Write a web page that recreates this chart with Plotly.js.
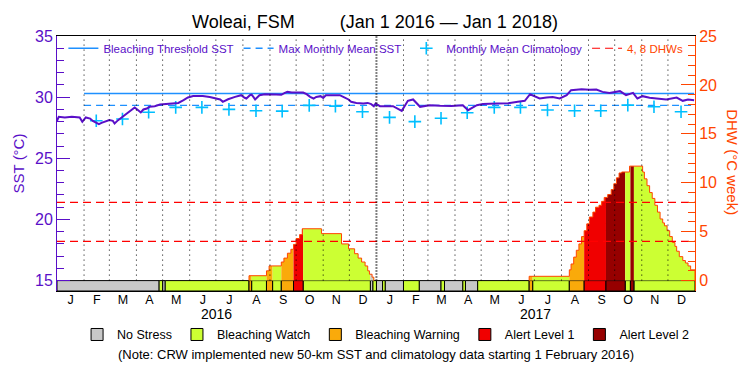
<!DOCTYPE html>
<html><head><meta charset="utf-8">
<script src="https://cdn.plot.ly/plotly-3.0.1.min.js"></script>
<style>html,body{margin:0;padding:0;background:#fff}#chart{width:750px;height:375px}</style>
</head><body><div id="chart"></div>
<script>
// ---- SST (daily line) ----
const sstDates = ['2016-01-01','2016-01-03','2016-01-10','2016-01-18','2016-01-27','2016-01-30','2016-02-03','2016-02-08','2016-02-11','2016-02-15','2016-02-18','2016-02-21','2016-02-25','2016-03-01','2016-03-05','2016-03-07','2016-03-11','2016-03-15','2016-03-19','2016-03-23','2016-03-26','2016-03-30','2016-04-03','2016-04-06','2016-04-09','2016-04-13','2016-04-16','2016-04-22','2016-04-28','2016-05-05','2016-05-13','2016-05-19','2016-05-25','2016-05-30','2016-06-05','2016-06-16','2016-06-24','2016-06-30','2016-07-06','2016-07-09','2016-07-15','2016-07-23','2016-07-30','2016-08-03','2016-08-05','2016-08-09','2016-08-11','2016-08-13','2016-08-15','2016-08-20','2016-08-26','2016-09-08','2016-09-14','2016-09-18','2016-09-21','2016-09-26','2016-10-09','2016-10-13','2016-10-17','2016-10-21','2016-10-24','2016-10-29','2016-11-01','2016-11-04','2016-11-20','2016-11-24','2016-11-30','2016-12-03','2016-12-09','2016-12-17','2016-12-22','2016-12-26','2016-12-29','2016-12-31','2017-01-05','2017-01-20','2017-01-26','2017-01-30','2017-02-06','2017-02-12','2017-02-20','2017-03-03','2017-03-15','2017-03-28','2017-04-10','2017-04-16','2017-04-26','2017-05-03','2017-05-19','2017-06-01','2017-06-12','2017-06-20','2017-06-26','2017-07-07','2017-07-15','2017-07-22','2017-07-30','2017-08-07','2017-08-12','2017-08-24','2017-09-02','2017-09-10','2017-09-17','2017-09-25','2017-10-07','2017-10-14','2017-10-22','2017-10-27','2017-11-02','2017-11-10','2017-11-18','2017-11-29','2017-12-11','2017-12-18','2017-12-24','2017-12-31'];
const sstValues = [28.06,28.39,28.34,28.39,28.34,27.98,28.34,28.25,28.06,27.9,27.79,27.9,27.98,28.12,28.06,27.85,28.12,28.34,28.53,28.8,28.99,29.15,28.93,28.75,28.99,29.07,29.21,29.26,29.4,29.43,29.48,29.53,29.75,29.97,30.1,30.1,30.02,29.94,29.81,29.62,29.83,30.02,30.16,29.95,29.89,30.16,30.21,30.02,29.81,30.16,30.24,30.21,30.19,30.35,30.43,30.38,30.38,30.24,30.02,29.89,30.02,30.08,29.94,30.16,30.16,30.02,29.81,29.62,29.53,29.48,29.53,29.43,29.26,29.48,29.26,29.26,29.07,28.88,29.7,29.81,29.21,29.34,29.3,29.28,29.34,28.93,29.34,29.43,29.48,29.5,29.62,29.7,30.24,29.89,29.97,30.02,29.89,30.16,30.57,30.65,30.6,30.62,30.43,30.35,30.49,30.16,30.35,29.89,30.08,29.95,29.89,29.81,29.97,29.7,29.8,29.75];

// ---- Monthly mean climatology ----
const climDates = ['2016-02-15','2016-03-16','2016-04-15','2016-05-16','2016-06-15','2016-07-16','2016-08-16','2016-09-15','2016-10-16','2016-11-15','2016-12-16','2017-01-16','2017-02-14','2017-03-16','2017-04-15','2017-05-16','2017-06-15','2017-07-16','2017-08-16','2017-09-15','2017-10-16','2017-11-15','2017-12-16'];
const climValues = [28.07,28.21,28.76,29.16,29.16,29.0,28.89,28.86,29.33,29.27,28.81,28.35,28.0,28.27,28.73,29.16,29.16,28.95,28.89,28.89,29.35,29.21,28.81];

// ---- Reference levels ----
const thresholdSST = 30.3;
const mmmSST = 29.33;
const refPeriod = ['2016-02-01','2017-12-31'];
const dhwLevels = [4, 8];

// ---- Degree heating weeks (step values, each holds until next date) ----
const dhwDates = ['2016-08-08','2016-08-28','2016-08-31','2016-09-14','2016-09-17','2016-09-21','2016-09-25','2016-09-28','2016-10-01','2016-10-05','2016-10-08','2016-10-30','2016-11-22','2016-11-30','2016-12-07','2016-12-11','2016-12-15','2016-12-19','2016-12-22','2016-12-24','2016-12-27','2016-12-29',
 '2017-06-25','2017-08-10','2017-08-12','2017-08-15','2017-08-18','2017-08-21','2017-08-24','2017-08-27','2017-08-30','2017-09-02','2017-09-06','2017-09-09','2017-09-13','2017-09-16','2017-09-19','2017-09-23','2017-09-27','2017-09-30','2017-10-03','2017-10-06','2017-10-09','2017-10-18','2017-11-02','2017-11-04','2017-11-07','2017-11-10','2017-11-13','2017-11-16','2017-11-19','2017-11-22','2017-11-25','2017-11-27','2017-11-30','2017-12-03','2017-12-06','2017-12-09','2017-12-11','2017-12-14','2017-12-18','2017-12-21','2017-12-24','2017-12-27'];
const dhwValues = [0.5,1.0,1.5,1.9,2.3,2.8,3.2,3.7,4.3,4.7,5.3,4.8,3.75,3.25,2.75,2.3,1.9,1.5,1.0,0.65,0.35,0,
 0.44,1.1,1.7,2.4,3.1,3.75,4.5,5.1,5.8,6.5,7.0,7.5,7.7,8.1,8.5,8.8,9.3,9.9,10.5,11.0,11.1,11.7,11.1,10.4,9.7,9.0,8.4,7.7,7.0,6.3,5.9,5.6,5.1,4.5,3.9,3.5,3.0,2.45,2.05,1.8,1.5,1.1];

// ---- Bleaching alert status (segment starts; last ends at period end) ----
const statusStarts = ['2016-01-01','2016-04-27','2016-05-01','2016-05-04','2016-08-08','2016-08-11','2016-08-28','2016-09-04','2016-09-14','2016-09-28','2016-10-09','2016-12-25','2016-12-28','2017-01-01','2017-01-08','2017-01-11','2017-02-01','2017-02-19','2017-03-16','2017-03-20','2017-04-10','2017-04-13','2017-04-27','2017-06-25','2017-06-29','2017-08-10','2017-08-27','2017-09-21','2017-10-13','2017-10-19','2017-10-23'];
const statusCodes  = [0,1,0,1,2,1,2,1,2,3,1,0,1,0,1,0,1,0,1,0,1,0,1,2,1,2,3,4,1,4,1];
const periodEnd = '2018-01-01';
const statusNames  = ['No Stress','Bleaching Watch','Bleaching Warning','Alert Level 1','Alert Level 2'];
const statusColors = ['#c8c8c8','#ccff33','#faaa0a','#f00000','#960000'];

// ---- Axis labels ----
const monthLetters = ['J','F','M','A','M','J','J','A','S','O','N','D'];
const years = [2016, 2017];

// ---- styling constants ----
const PURPLE = '#5a0fc8', ORANGE = '#ff4500', SKY = '#00bfff', BLUE = '#1e90ff';
const FONT = 'Liberation Sans, Arial, sans-serif';
const SST_RANGE = [14.15, 35];
const DHW_RANGE = [-1.0625, 25];

const ms = s => Date.parse(s.length === 10 ? s + 'T00:00:00Z' : s);
const iso = t => new Date(t).toISOString().replace('T',' ').slice(0,19);
function dhwAt(t){ let v = 0; for (let i=0;i<dhwDates.length;i++){ if (ms(dhwDates[i]) <= t) v = dhwValues[i]; else break; } return v; }

const traces = [];

// DHW area, coloured by status segment
for (let i=0;i<statusStarts.length;i++){
  const s = ms(statusStarts[i]);
  const e = ms(i+1<statusStarts.length ? statusStarts[i+1] : periodEnd);
  const xs=[iso(s)], ys=[dhwAt(s)];
  dhwDates.forEach((d,k)=>{ const t=ms(d); if (t>s && t<e){ xs.push(d); ys.push(dhwValues[k]); } });
  xs.push(iso(e)); ys.push(ys[ys.length-1]);
  if (ys.every(v=>v===0)) continue;
  traces.push({x:xs, y:ys, yaxis:'y2', mode:'lines', line:{width:0, shape:'hv'}, fill:'tozeroy',
    fillcolor: statusColors[statusCodes[i]], showlegend:false, hoverinfo:'skip'});
}

// DHW outline, one per episode
let ep = null;
const episodes = [];
dhwDates.forEach((d,k)=>{
  if (dhwValues[k] > 0){ if(!ep){ ep={x:[d],y:[0]}; episodes.push(ep);} ep.x.push(d); ep.y.push(dhwValues[k]); }
  else if (ep){ ep.x.push(d); ep.y.push(0); ep=null; }
});
if (ep){ ep.x.push(periodEnd); ep.y.push(0); }
episodes.forEach(p=>traces.push({x:p.x, y:p.y, yaxis:'y2', mode:'lines', line:{color:ORANGE, width:1, shape:'hv'}, showlegend:false, hoverinfo:'skip'}));

// Status bar
statusNames.forEach((nm,c)=>{
  const xs=[], ws=[];
  statusStarts.forEach((d,i)=>{
    if (statusCodes[i]!==c) return;
    const s=ms(d), e=ms(i+1<statusStarts.length ? statusStarts[i+1] : periodEnd);
    xs.push(iso((s+e)/2)); ws.push(e-s);
  });
  traces.push({type:'bar', x:xs, width:ws, y:xs.map(()=>-DHW_RANGE[0]), base:DHW_RANGE[0], yaxis:'y2',
    marker:{color:statusColors[c], line:{color:'#000', width:1}}, name:nm, legend:'legend2', hoverinfo:'skip'});
});

// SST reference lines & climatology
traces.push({x:refPeriod, y:refPeriod.map(()=>thresholdSST), mode:'lines', line:{color:BLUE, width:1.3}, name:'Bleaching Threshold SST'});
traces.push({x:refPeriod, y:refPeriod.map(()=>mmmSST), mode:'lines', line:{color:BLUE, width:1.3, dash:'7px,5px'}, name:'Max Monthly Mean SST'});
traces.push({x:climDates, y:climValues, mode:'markers', marker:{symbol:'cross-thin-open', size:9, line:{color:SKY, width:1.6}, color:SKY}, name:'Monthly Mean Climatology'});
// DHW 4 and 8 levels
const lx=[], ly=[];
dhwLevels.forEach(v=>{ lx.push('2016-01-01', periodEnd, null); ly.push(v, v, null); });
traces.push({x:lx, y:ly, yaxis:'y2', mode:'lines', line:{color:'#ff0000', width:1.2, dash:'8px,5px'}, name:'<span style="color:'+ORANGE+'">4, 8 DHWs</span>'});
// SST line
traces.push({x:sstDates, y:sstValues, mode:'lines', line:{color:PURPLE, width:2}, showlegend:false});

// month ticks / grid
const tickvals=[], ticktext=[], shapes=[], annotations=[];
years.forEach(y=>{
  monthLetters.forEach((m,k)=>{
    const start = Date.UTC(y,k,1), next = Date.UTC(y,k+1,1);
    tickvals.push(iso((start+next)/2)); ticktext.push(m);
    if (!(y===years[0] && k===0)){
      const yearLine = (k===0);
      shapes.push({type:'line', xref:'x', yref:'y2', x0:iso(start), x1:iso(start), y0:0, y1:DHW_RANGE[1], layer:'above',
        line:{color:'#000', width: yearLine?2:1, dash: yearLine?'1px,2px':'1px,4px'}});
    }
  });
  annotations.push({text:String(y), x:y+'-07-02', xref:'x', y:-0.09, yref:'paper', showarrow:false, yanchor:'middle', font:{size:14, color:'#000', family:FONT}});
});
annotations.push({text:'DHW (°C week)', textangle:90, x:1.0596, xref:'paper', xanchor:'center', y:0.505, yref:'paper', yanchor:'middle', showarrow:false, font:{size:15, color:ORANGE, family:FONT}});
annotations.push({text:'(Note: CRW implemented new 50-km SST and climatology data starting 1 February 2016)', x:0.5, xref:'paper', y:-0.25, yref:'paper', showarrow:false, yanchor:'middle', font:{size:13, color:'#000', family:FONT}});

const layout = {
  width:750, height:375, margin:{l:57, r:55, t:36, b:84},
  paper_bgcolor:'#fff', plot_bgcolor:'#fff', font:{family:FONT},
  title:{text:'Woleai, FSM\u00a0\u00a0\u00a0\u00a0\u00a0\u00a0\u00a0\u00a0\u00a0(Jan 1 2016 \u2014 Jan 1 2018)', x:0.5, xanchor:'center', y:1-22/375, yanchor:'middle', font:{size:18, color:'#000', family:FONT}},
  barmode:'overlay',
  xaxis:{type:'date', range:['2016-01-01', periodEnd], tickvals, ticktext, ticks:'', showgrid:false, zeroline:false,
    showline:true, linecolor:'#000', linewidth:1, mirror:true, tickfont:{size:12.5, color:'#000'}, ticklabelstandoff:-3},
  yaxis:{range:SST_RANGE, tick0:15, dtick:5, ticks:'inside', ticklen:13, tickcolor:PURPLE, showgrid:false, zeroline:false,
    showline:true, linecolor:PURPLE, linewidth:1, tickfont:{size:16, color:PURPLE},
    minor:{dtick:1, ticks:'inside', ticklen:7, tickcolor:PURPLE, showgrid:false},
    title:{text:'SST (°C)', font:{size:15, color:PURPLE}, standoff:6}},
  yaxis2:{range:DHW_RANGE, overlaying:'y', side:'right', tick0:0, dtick:5, ticks:'inside', ticklen:14, tickcolor:ORANGE, showgrid:false, zeroline:false,
    showline:true, linecolor:ORANGE, linewidth:1, tickfont:{size:16, color:ORANGE},
    minor:{dtick:1, ticks:'inside', ticklen:7, tickcolor:ORANGE, showgrid:false}},
  legend:{orientation:'h', x:0.01, xanchor:'left', y:0.952, yanchor:'middle', bgcolor:'rgba(0,0,0,0)', font:{size:11.5, color:PURPLE}, traceorder:'normal'},
  legend2:{orientation:'h', x:0.515, xanchor:'center', y:-0.172, yanchor:'middle', bgcolor:'rgba(0,0,0,0)', font:{size:12.5, color:'#000'}},
  shapes, annotations, showlegend:true
};
Plotly.newPlot('chart', traces, layout, {staticPlot:true, displayModeBar:false});
</script></body></html>
